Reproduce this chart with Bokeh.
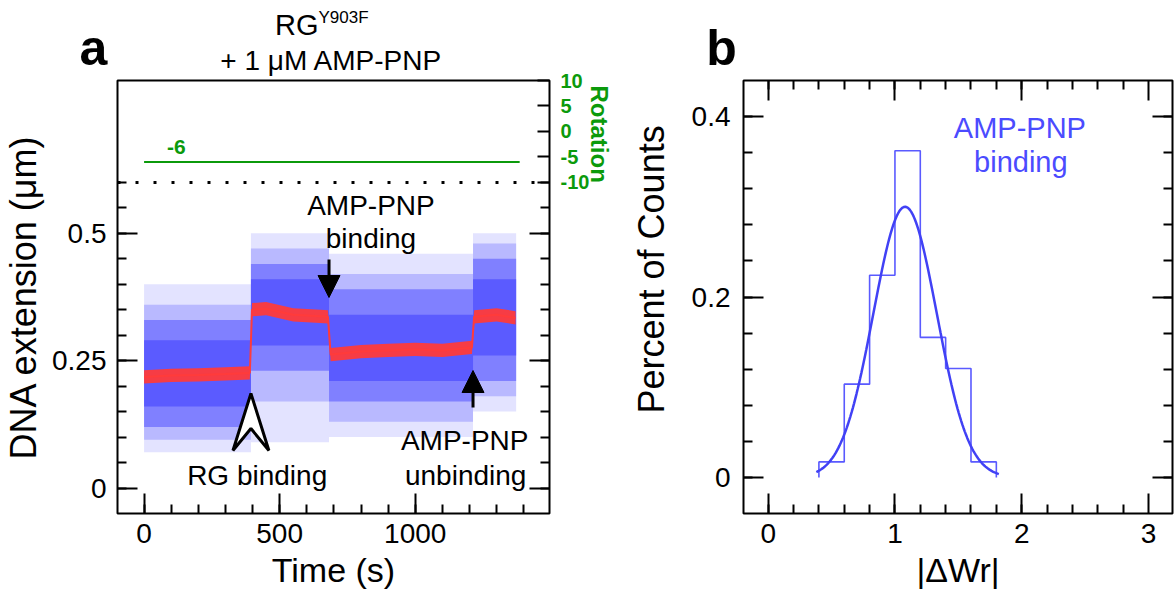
import math
from bokeh.plotting import figure
from bokeh.models import Range1d, LinearAxis, FixedTicker, Label, Span, Arrow, NormalHead, Title
from bokeh.layouts import row, column
from bokeh.embed import file_html
from bokeh.resources import INLINE

FONT = "Liberation Sans"
BLUE = "#3c3cff"
RED = "#ff3b3b"
GREEN = "#0b9a0b"
HIST_BLUE = "#5a5aff"
FIT_BLUE = "#4141f5"
TEXT_BLUE = "#4b4bff"

# ---------------- data: panel a ----------------
seg_start = [0, 394, 682, 1213]
seg_end = [394, 682, 1213, 1372]
sparse_lo = [0.07, 0.09, 0.10, 0.15]
sparse_hi = [0.40, 0.50, 0.46, 0.50]
mid_lo = [0.095, 0.17, 0.13, 0.18]
mid_hi = [0.36, 0.47, 0.42, 0.48]
dense_lo = [0.12, 0.23, 0.17, 0.21]
dense_hi = [0.33, 0.44, 0.39, 0.45]
core_lo = [0.16, 0.28, 0.21, 0.26]
core_hi = [0.29, 0.41, 0.34, 0.41]

red_t = [0, 100, 200, 300, 390, 398, 450, 550, 650, 678, 688, 800, 900, 1000, 1100, 1209, 1217, 1300, 1370]
red_y = [0.218, 0.221, 0.222, 0.224, 0.226, 0.350, 0.352, 0.340, 0.337, 0.336,
         0.262, 0.268, 0.270, 0.272, 0.270, 0.276, 0.336, 0.340, 0.334]

rot_t = [0, 1385]
rot_turns = [-6, -6]
rot_text = "-6"

event_t = [394, 682, 1213]

a_xticks = [0, 500, 1000]
a_xminor = [100 * i for i in range(15)]
a_yticks = [0, 0.25, 0.5]
a_yminor = [round(0.05 * i, 2) for i in range(13)]
rot_ticks = [-10, -5, 0, 5, 10]

# ---------------- data: panel b ----------------
bin_lo = [0.4, 0.6, 0.8, 1.0, 1.2, 1.4, 1.6]
bin_hi = [0.6, 0.8, 1.0, 1.2, 1.4, 1.6, 1.8]
bin_pct = [0.0172, 0.1034, 0.2241, 0.3621, 0.1552, 0.1207, 0.0172]
fit_amp = 0.300
fit_mu = 1.08
fit_sigma = 0.25
fit_span = [0.38, 1.82]
b_xticks = [0, 1, 2, 3]
b_xminor = [round(0.2 * i, 1) for i in range(15)]
b_yticks = [0, 0.2, 0.4]
b_yminor = [round(0.04 * i, 2) for i in range(11)]

# ---------------- layout constants (page pixels) ----------------
STRIP = 76            # height of the heading strip
OVER = 12             # the panels' transparent top border slides under the strip
PH = 594 - STRIP + OVER
TOP = 80 - (STRIP - OVER)
FH = 433
WA, AL, AFW = 612, 116, 433
WB, BL, BFW = 562, 130, 430
AX = (-98, 1495)
AY = (-0.05, 0.8)
BX = (-0.195, 3.19)
BY = (-0.04, 0.44)

F_TOP = 80
F_BOT = F_TOP + FH
A_LEFT = AL
B_LEFT = WA + BL
MID = 0.3465   # baseline lies this many ems below the middle of the text box


def a_x(px):
    return AX[0] + (px - A_LEFT) * (AX[1] - AX[0]) / AFW


def a_y(py):
    return AY[0] + (F_BOT - py) * (AY[1] - AY[0]) / FH


def b_x(px):
    return BX[0] + (px - B_LEFT) * (BX[1] - BX[0]) / BFW


def b_y(py):
    return BY[0] + (F_BOT - py) * (BY[1] - BY[0]) / FH


def ident(v):
    return v


def style_axis(ax, ticks, minor, show_labels=True, overrides=None, size="28px",
               standoff=10, major_in=20, minor_in=9, color="black", bold=False):
    ax.ticker = FixedTicker(ticks=ticks, minor_ticks=minor)
    ax.axis_line_color = None
    ax.major_tick_in = major_in
    ax.major_tick_out = 0
    ax.minor_tick_in = minor_in
    ax.minor_tick_out = 0
    ax.major_tick_line_width = 2
    ax.minor_tick_line_width = 2
    ax.major_tick_line_color = "black"
    ax.minor_tick_line_color = "black"
    if show_labels:
        ax.major_label_text_font = FONT
        ax.major_label_text_font_size = size
        ax.major_label_text_color = color
        ax.major_label_standoff = standoff
        if bold:
            ax.major_label_text_font_style = "bold"
        if overrides:
            ax.major_label_overrides = overrides
    else:
        ax.major_label_text_font_size = "1px"
        ax.major_label_text_color = None
        ax.major_label_standoff = 0


def axis_title(ax, text, size, standoff):
    ax.axis_label = text
    ax.axis_label_text_font = FONT
    ax.axis_label_text_font_size = size
    ax.axis_label_text_font_style = "normal"
    ax.axis_label_text_color = "black"
    ax.axis_label_standoff = standoff


def text_at(p, fx, fy, px, base_py, text, size, color="black", align="center", bold=False):
    """Place text with its baseline at page pixel row base_py."""
    mid_py = base_py - MID * size
    p.add_layout(Label(x=fx(px), y=fy(mid_py), text=text, text_font=FONT,
                       text_font_size=f"{size}px", text_color=color, text_align=align,
                       text_baseline="middle",
                       text_font_style="bold" if bold else "normal"))


def new_fig(width, left, fw, xr, yr):
    p = figure(width=width, height=PH, x_range=Range1d(*xr), y_range=Range1d(*yr),
               output_backend="svg", toolbar_location=None,
               min_border_left=left, min_border_right=width - left - fw,
               min_border_top=TOP, min_border_bottom=PH - TOP - FH,
               x_axis_location=None, y_axis_location=None)
    p.grid.visible = False
    p.outline_line_color = "black"
    p.outline_line_width = 2
    p.background_fill_color = "white"
    p.border_fill_color = None
    return p


# =============== heading strip (panel letters and panel-a title) ===============
head = figure(width=WA + WB, height=STRIP, x_range=Range1d(0, WA + WB),
              y_range=Range1d(STRIP, 0), output_backend="svg", toolbar_location=None,
              min_border=0, x_axis_location=None, y_axis_location=None)
head.grid.visible = False
head.outline_line_color = None
head.background_fill_color = None
head.border_fill_color = None
text_at(head, ident, ident, 318, 35, "RG", 29, align="right")
text_at(head, ident, ident, 318, 23, "Y903F", 17, align="left")
text_at(head, ident, ident, 331, 70, "+ 1 \u03bcM AMP-PNP", 28)
text_at(head, ident, ident, 93, 65, "a", 50, bold=True)
text_at(head, ident, ident, 721, 65, "b", 50, bold=True)

# =============== panel a ===============
p1 = new_fig(WA, AL, AFW, AX, AY)
p1.extra_y_ranges = {"rot": Range1d(-75, 10)}

xa = LinearAxis()
style_axis(xa, a_xticks, a_xminor, standoff=10)
axis_title(xa, "Time (s)", "34px", 5)
p1.add_layout(xa, "below")

ya = LinearAxis()
style_axis(ya, a_yticks, a_yminor, overrides={0: "0", 0.25: "0.25", 0.5: "0.5"}, standoff=11)
axis_title(ya, "DNA extension (\u03bcm)", "36px", 5)
p1.add_layout(ya, "left")

ya_m = LinearAxis()
style_axis(ya_m, a_yticks, a_yminor, show_labels=False)
p1.add_layout(ya_m, "right")

rax = LinearAxis(y_range_name="rot")
style_axis(rax, rot_ticks, [], overrides={t: str(t) for t in rot_ticks}, size="20px",
           standoff=11, major_in=12, color=GREEN, bold=True)
p1.add_layout(rax, "right")
p1.add_layout(Title(text="Rotation", align="left", offset=5, standoff=-14,
                    text_font=FONT, text_font_size="24px", text_font_style="bold",
                    text_color=GREEN), "right")

# blue data cloud (density envelopes)
p1.quad(left=seg_start, right=seg_end, bottom=sparse_lo, top=sparse_hi,
        fill_color=BLUE, fill_alpha=0.14, line_color=None)
p1.quad(left=seg_start, right=seg_end, bottom=mid_lo, top=mid_hi,
        fill_color=BLUE, fill_alpha=0.25, line_color=None)
p1.quad(left=seg_start, right=seg_end, bottom=dense_lo, top=dense_hi,
        fill_color=BLUE, fill_alpha=0.45, line_color=None)
p1.quad(left=seg_start, right=seg_end, bottom=core_lo, top=core_hi,
        fill_color=BLUE, fill_alpha=0.55, line_color=None)

# red smoothed trace
RED_HALF = 0.013
p1.varea(x=red_t, y1=[v - RED_HALF for v in red_y], y2=[v + RED_HALF for v in red_y],
         fill_color=RED, fill_alpha=0.95)
p1.line(red_t, red_y, line_color=RED, line_width=2)

# rotation trace (green) on the right axis
p1.line(rot_t, rot_turns, y_range_name="rot", line_color=GREEN, line_width=2)
p1.add_layout(Label(x=a_x(175), y=rot_turns[0], y_range_name="rot", text=rot_text,
                    text_font=FONT, text_font_size="21px", text_color=GREEN,
                    text_font_style="bold", text_align="center", text_baseline="bottom",
                    y_offset=8))

p1.add_layout(Span(location=0.6, dimension="width", line_color="black",
                   line_width=3, line_dash="3 15"))

# arrows
p1.add_layout(Arrow(end=NormalHead(size=22, fill_color="black", line_color="black"),
                    x_start=event_t[1], y_start=a_y(259), x_end=event_t[1], y_end=a_y(297),
                    line_width=3, line_color="black"))
p1.add_layout(Arrow(end=NormalHead(size=22, fill_color="black", line_color="black"),
                    x_start=event_t[2], y_start=a_y(407), x_end=event_t[2], y_end=a_y(370),
                    line_width=3, line_color="black"))
half_w = 18 * (AX[1] - AX[0]) / AFW
p1.patch(x=[event_t[0], event_t[0] + half_w, event_t[0], event_t[0] - half_w],
         y=[a_y(393), a_y(450), a_y(428), a_y(450)],
         fill_color="white", line_color="black", line_width=3)

# annotations inside the frame
text_at(p1, a_x, a_y, 370, 215, "AMP-PNP", 28)
text_at(p1, a_x, a_y, 370, 248, "binding", 28)
text_at(p1, a_x, a_y, 256, 485, "RG binding", 28)
text_at(p1, a_x, a_y, 464, 450, "AMP-PNP", 28)
text_at(p1, a_x, a_y, 465, 485, "unbinding", 28)

# =============== panel b ===============
p2 = new_fig(WB, BL, BFW, BX, BY)

xb = LinearAxis()
style_axis(xb, b_xticks, b_xminor, standoff=10)
axis_title(xb, "|\u0394Wr|", "34px", 5)
p2.add_layout(xb, "below")
xb_t = LinearAxis()
style_axis(xb_t, b_xticks, b_xminor, show_labels=False)
p2.add_layout(xb_t, "above")
yb = LinearAxis()
style_axis(yb, b_yticks, b_yminor, overrides={0: "0", 0.2: "0.2", 0.4: "0.4"}, standoff=13)
p2.add_layout(yb, "left")
p2.add_layout(Title(text="Percent of Counts", align="left", offset=100, standoff=33,
                    text_font=FONT, text_font_size="36px", text_font_style="normal",
                    text_color="black"), "left")
yb_r = LinearAxis()
style_axis(yb_r, b_yticks, b_yminor, show_labels=False)
p2.add_layout(yb_r, "right")

hx = [bin_lo[0]]
hy = [0]
for lo, hi, v in zip(bin_lo, bin_hi, bin_pct):
    hx += [lo, hi]
    hy += [v, v]
hx.append(bin_hi[-1])
hy.append(0)
p2.line(hx, hy, line_color=HIST_BLUE, line_width=1.6)

n = 150
fx = [fit_span[0] + (fit_span[1] - fit_span[0]) * i / n for i in range(n + 1)]
fy = [fit_amp * math.exp(-0.5 * ((x - fit_mu) / fit_sigma) ** 2) for x in fx]
p2.line(fx, fy, line_color=FIT_BLUE, line_width=2.5)

text_at(p2, b_x, b_y, 1019, 138, "AMP-PNP", 29, color=TEXT_BLUE)
text_at(p2, b_x, b_y, 1020, 172, "binding", 29, color=TEXT_BLUE)

panels = row(p1, p2, margin=(-OVER, 0, 0, 0))
layout = column(head, panels)
open("out.html", "w").write(file_html(layout, INLINE))
